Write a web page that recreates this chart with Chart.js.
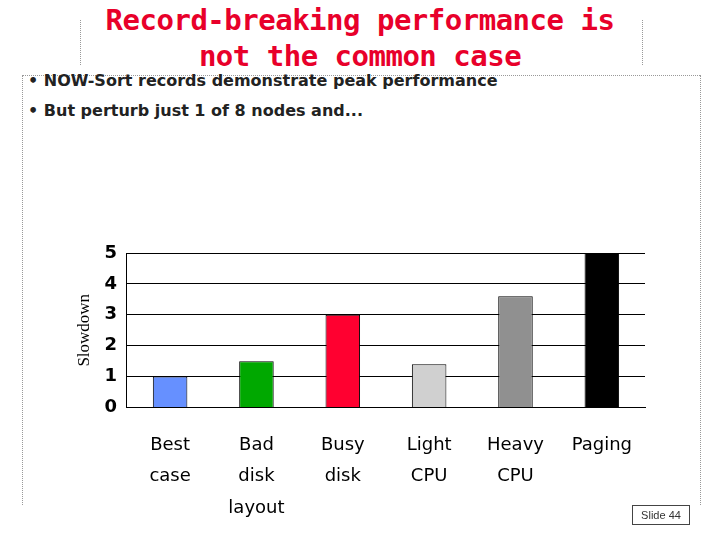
<!DOCTYPE html>
<html><head><meta charset="utf-8">
<script src="https://cdn.jsdelivr.net/npm/chart.js@4"></script>
<style>
body{margin:0;width:720px;height:540px;background:#fff;position:relative;overflow:hidden;font-family:"DejaVu Sans",sans-serif}
#t{position:absolute;left:0;width:720px;top:2px;text-align:center;color:#e8002a;font-size:29px;line-height:36px;font-weight:bold;font-family:"DejaVu Sans Mono",monospace;letter-spacing:-0.5px}
.b{position:absolute;left:28px;font-size:16px;font-weight:bold;color:#222}
#c{position:absolute;left:0;top:0;width:720px;height:540px}
#s{position:absolute;left:632px;top:505px;width:56px;height:18px;border:1px solid #444;font-size:11px;font-family:"Liberation Sans";text-align:center;line-height:18px;color:#333}
.dv{position:absolute;border-left:1px dotted #999}
.dh{position:absolute;border-top:1px dotted #999}
</style></head><body>
<div class="dv" style="left:22px;top:75px;height:430px"></div>
<div class="dv" style="left:80px;top:20px;height:45px"></div>
<div class="dv" style="left:642px;top:20px;height:45px"></div>
<div class="dv" style="left:700px;top:75px;height:430px"></div>
<div class="dh" style="left:22px;top:75px;width:678px"></div>
<div id="t">Record-breaking performance is<br>not the common case</div>
<div class="b" style="top:71px">• NOW-Sort records demonstrate peak performance</div>
<div class="b" style="top:101px">• But perturb just 1 of 8 nodes and...</div>
<div id="c"><canvas id="cv"></canvas></div>
<div id="s">Slide 44</div>
<script>
const categories=[["Best","case"],["Bad","disk","layout"],["Busy","disk"],["Light","CPU"],["Heavy","CPU"],["Paging"]];
const slowdown=[1,1.5,3,1.4,3.6,5];
const colors=["#6690ff","#00a800","#ff0030","#d0d0d0","#909090","#000000"];
new Chart(document.getElementById('cv'),{type:'bar',
data:{labels:categories,datasets:[{data:slowdown,backgroundColor:colors,borderColor:'#000',borderWidth:1,categoryPercentage:0.8,barPercentage:0.5}]},
options:{responsive:true,maintainAspectRatio:false,animation:false,
layout:{padding:{top:253,left:74,right:75,bottom:2}},
plugins:{legend:{display:false},tooltip:{enabled:false}},
scales:{y:{min:0,max:5,ticks:{stepSize:1,color:'#000',font:{size:18,weight:'bold',family:'DejaVu Sans'},padding:10},
grid:{color:'#000',drawTicks:false},border:{color:'#000'},
title:{display:true,text:'Slowdown',color:'#000',font:{size:17,family:'Liberation Serif'},padding:0}},
x:{ticks:{color:'#000',font:{size:18,family:'DejaVu Sans',lineHeight:1.75},maxRotation:0,padding:14},
grid:{display:false,drawOnChartArea:false},border:{color:'#000'}}}}});
</script></body></html>
